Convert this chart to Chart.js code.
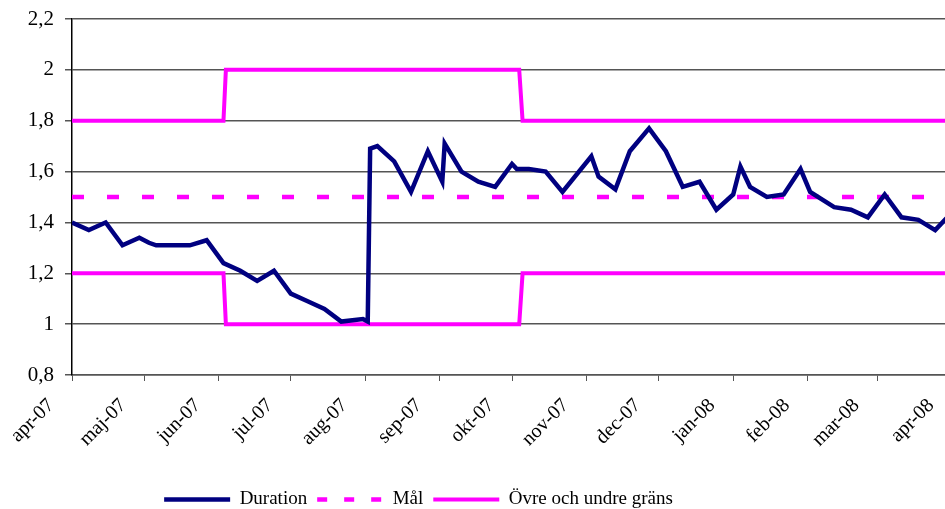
<!DOCTYPE html>
<html>
<head>
<meta charset="utf-8">
<script src="https://cdn.jsdelivr.net/npm/chart.js@4"></script>
<style>
  html, body { margin: 0; padding: 0; background: #fff; }
  #wrap { width: 945px; height: 509px; }
</style>
</head>
<body>
<div id="wrap"><canvas id="durationChart"></canvas></div>
<script>
// days counted from 1 apr 2007
const monthDays = [0, 30, 61, 91, 122, 153, 183, 214, 244, 275, 306, 335, 366];
const monthLabels = ['apr-07', 'maj-07', 'jun-07', 'jul-07', 'aug-07', 'sep-07', 'okt-07',
                     'nov-07', 'dec-07', 'jan-08', 'feb-08', 'mar-08', 'apr-08'];

const durationDays = [0, 7, 14, 21, 28, 32, 35, 42, 49, 56, 63, 70, 77, 84, 91, 98, 105, 112,
                      121, 123, 124, 127, 134, 141, 148, 154, 155, 162, 169, 176, 183, 185, 190,
                      197, 204, 216, 219, 226, 232, 240, 247, 254, 261, 268, 275, 278, 282, 289,
                      296, 303, 307, 317, 324, 331, 338, 345, 352, 359, 366];
const durationValues = [1.40, 1.37, 1.40, 1.31, 1.34, 1.32, 1.31, 1.31, 1.31, 1.33, 1.24, 1.21, 1.17, 1.21,
                        1.12, 1.09, 1.06, 1.01, 1.02, 1.01, 1.69, 1.70, 1.64, 1.52, 1.68, 1.56, 1.71,
                        1.60, 1.56, 1.54, 1.63, 1.61, 1.61, 1.60, 1.52, 1.66, 1.58, 1.53, 1.68, 1.77,
                        1.68, 1.54, 1.56, 1.45, 1.51, 1.62, 1.54, 1.50, 1.51, 1.61, 1.52, 1.46, 1.45,
                        1.42, 1.51, 1.42, 1.41, 1.37, 1.44];

const targetDays = [0, 366];
const targetValues = [1.5, 1.5];

const boundDays = [0, 63, 64, 186, 187.4, 366];
const upperValues = [1.8, 1.8, 2.0, 2.0, 1.8, 1.8];
const lowerValues = [1.2, 1.2, 1.0, 1.0, 1.2, 1.2];

const yTicks = [0.8, 1.0, 1.2, 1.4, 1.6, 1.8, 2.0, 2.2];

function pts(xs, ys) {
    return xs.map((x, i) => ({ x: x, y: ys[i] }));
}

const serif = 'Liberation Serif, "Times New Roman", serif';
const navy = '#000080';
const magenta = '#ff00ff';

// plot runs a few px past the right edge in the original, legend sits left of centre
const layoutTweak = {
    id: 'layoutTweak',
    afterLayout(chart) {
        const xs = chart.scales.x;
        chart.chartArea.right += 7;
        chart.chartArea.width += 7;
        xs.right += 7;
        xs.width += 7;
        xs.configure();
        chart.legend.left -= 54;
        chart.legend.right -= 54;
    }
};

const ctx = document.getElementById('durationChart').getContext('2d');
new Chart(ctx, {
    type: 'line',
    data: {
        datasets: [
            {
                label: 'Duration',
                data: pts(durationDays, durationValues),
                borderColor: navy,
                backgroundColor: navy,
                borderWidth: 4.5,
                pointRadius: 0,
                tension: 0
            },
            {
                label: 'Mål',
                data: pts(targetDays, targetValues),
                borderColor: magenta,
                backgroundColor: magenta,
                borderWidth: 4.5,
                borderDash: [12, 23],
                pointRadius: 0
            },
            {
                label: 'Övre och undre gräns',
                data: pts(boundDays, upperValues),
                borderColor: magenta,
                backgroundColor: magenta,
                borderWidth: 4,
                pointRadius: 0
            },
            {
                label: 'undre',
                data: pts(boundDays, lowerValues),
                borderColor: magenta,
                backgroundColor: magenta,
                borderWidth: 4,
                pointRadius: 0
            }
        ]
    },
    plugins: [layoutTweak],
    options: {
        responsive: true,
        maintainAspectRatio: false,
        animation: false,
        layout: { padding: { top: 19, right: 0, left: 0, bottom: -10 } },
        scales: {
            x: {
                type: 'linear',
                min: 0,
                max: 366,
                afterBuildTicks: scale => {
                    scale.ticks = monthDays.map(v => ({ value: v }));
                },
                afterFit: scale => {
                    scale.paddingRight = 0;
                    scale.height = 105;
                },
                ticks: {
                    autoSkip: false,
                    minRotation: 45,
                    maxRotation: 45,
                    padding: 13,
                    labelOffset: -21,
                    color: '#000',
                    font: { family: serif, size: 20 },
                    callback: (v) => monthLabels[monthDays.indexOf(v)]
                },
                grid: {
                    drawOnChartArea: false,
                    drawTicks: true,
                    tickLength: 6,
                    color: '#555'
                },
                border: { color: '#555', width: 1.5 }
            },
            y: {
                min: 0.8,
                max: 2.2,
                afterBuildTicks: scale => {
                    scale.ticks = yTicks.map(v => ({ value: v }));
                },
                afterFit: scale => {
                    scale.width = 72;
                    scale.paddingTop = 0;
                    scale.paddingBottom = 0;
                },
                ticks: {
                    padding: 11,
                    color: '#000',
                    font: { family: serif, size: 21 },
                    callback: v => Number(v.toFixed(1)).toString().replace('.', ',')
                },
                grid: {
                    color: '#555',
                    lineWidth: 1.5,
                    tickLength: 7
                },
                border: { color: '#000', width: 1.5 }
            }
        },
        plugins: {
            legend: {
                position: 'bottom',
                labels: {
                    color: '#000',
                    font: { family: serif, size: 19 },
                    usePointStyle: true,
                    pointStyle: 'line',
                    boxWidth: 66,
                    pointStyleWidth: 66,
                    padding: 10,
                    filter: item => item.datasetIndex < 3,
                    generateLabels: chart => {
                        const items = Chart.defaults.plugins.legend.labels.generateLabels(chart);
                        items.forEach(it => {
                            it.pointStyle = 'line';
                            if (it.datasetIndex === 1) it.lineDash = [10, 17];
                        });
                        return items;
                    }
                }
            },
            tooltip: { enabled: false }
        }
    }
});
</script>
</body>
</html>
